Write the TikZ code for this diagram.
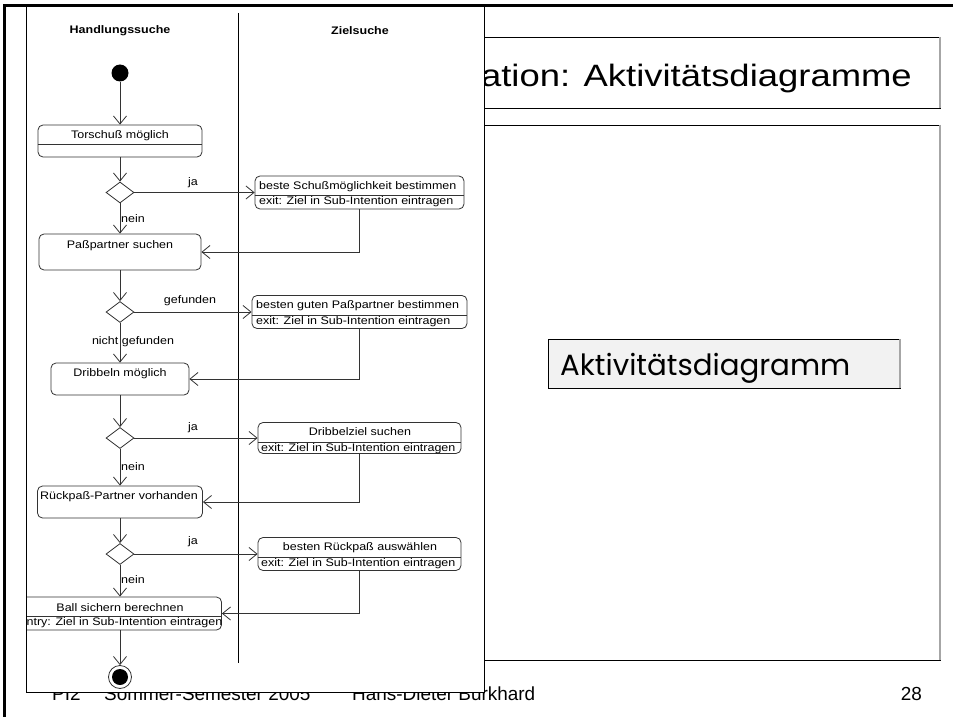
\documentclass[tikz,border=0pt]{standalone}
\usepackage{fontspec}
\setmainfont{Liberation Sans}
\newfontfamily\dfont[FakeStretch=1.14]{Liberation Sans}
\newfontfamily\tfont[FakeStretch=1.18]{Liberation Sans}
\newfontfamily\cfont{Poppins}
\usetikzlibrary{arrows.meta,shapes.geometric,calc}

\definecolor{ln}{HTML}{333333}
\definecolor{boxfill}{HTML}{F2F2F2}

\tikzset{
  act/.style={draw=ln, rounded corners=5bp, line width=0.8bp, inner sep=0pt, fill=white},
  dec/.style={draw=ln, diamond, inner sep=0pt, minimum width=28bp, minimum height=21bp,
              line width=0.8bp, fill=white},
  flow/.style={draw=ln, line width=0.8bp, -{Straight Barb[length=8bp,width=13bp]}},
  sep/.style={draw=ln, line width=0.8bp},
  txt/.style={font={\dfont\fontsize{11}{13}\selectfont}, inner sep=0pt},
  lbl/.style={font={\dfont\fontsize{11}{13}\selectfont}, inner sep=0pt},
  hdr/.style={font={\dfont\bfseries\fontsize{11}{13}\selectfont}, inner sep=0pt},
  foot/.style={font={\fontsize{19}{22}\selectfont}, inner sep=0pt, anchor=base west},
  slidebox/.style={draw=black, line width=0.9bp},
}

\begin{document}
\begin{tikzpicture}[x=1bp,y=-1bp]
\useasboundingbox (0,0) rectangle (953,717);
\fill[white] (0,0) rectangle (953,717);

% ---- slide: title bar, content area, footer ----
\draw[slidebox] (30,37) rectangle (940,108);
\draw[gray!70, line width=1.4bp] (940,37) -- (940,108);
\node[font={\tfont\fontsize{31}{36}\selectfont}, anchor=base east, inner sep=0pt]
  (title) at (912,87) {ation: Aktivitätsdiagramme};

\draw[slidebox] (30,125) rectangle (940,660);
\draw[gray!70, line width=1.4bp] (940,125) -- (940,660);

\draw[slidebox, fill=boxfill] (548,339) rectangle (900,388);
\draw[gray!70, line width=1.2bp] (900,339) -- (900,388);
\node[anchor=base west, inner sep=0pt] (akt) at (560,375)
  {\resizebox{290bp}{!}{\cfont Aktivitätsdiagramm}};

\node[foot] (f1) at (52,700) {PI2};
\node[foot] (f2) at (104,700) {Sommer-Semester 2005};
\node[foot] (f3) at (352,700) {Hans-Dieter Burkhard};
\node[foot, anchor=base east] (f4) at (922,700) {28};

% ---- activity diagram sheet ----
\fill[white] (26,5) rectangle (484,692);
\begin{scope}
\clip (26,5) rectangle (484,692);

% swimlanes
\draw[black, line width=0.8bp] (238,13) -- (238,663);
\node[hdr] (lane1) at (120,31) {Handlungssuche};
\node[hdr] (lane2) at (360,31) {Zielsuche};

% initial node
\node[circle, fill=black, minimum size=17bp, inner sep=0pt] (start) at (120,73) {};

% Torschuss
\node[act, minimum width=164bp, minimum height=32bp] (tor) at (120,141) {};
\draw[sep] ($(tor.west)+(0,3)$) -- ($(tor.east)+(0,3)$);
\node[txt] (torT) at (120,136) {Torschuß möglich};

\node[dec] (d1) at (120,192.5) {};
\node[act, minimum width=209bp, minimum height=33bp] (schuss) at (359.5,192.5) {};
\draw[sep] ($(schuss.west)+(0,2.5)$) -- ($(schuss.east)+(0,2.5)$);
\node[txt, anchor=west] (schussA) at (259,186.5) {beste Schußmöglichkeit bestimmen};
\node[txt, anchor=west] (schussB) at (259,202) {exit: Ziel in Sub-Intention eintragen};

% Passpartner
\node[act, minimum width=162bp, minimum height=36bp] (pass) at (120,252) {};
\node[txt] (passT) at (120,246) {Paßpartner suchen};

\node[dec] (d2) at (120,312) {};
\node[act, minimum width=215bp, minimum height=33bp] (bpass) at (359.5,312) {};
\node[txt, anchor=west] (bpassA) at (256,305.5) {besten guten Paßpartner bestimmen};
\draw[sep] ($(bpass.west)+(0,3)$) -- ($(bpass.east)+(0,3)$);
\node[txt, anchor=west] (bpassB) at (256,322) {exit: Ziel in Sub-Intention eintragen};

% Dribbeln
\node[act, minimum width=138bp, minimum height=32bp] (drib) at (120,379) {};
\node[txt] (dribT) at (120,374) {Dribbeln möglich};

\node[dec] (d3) at (120,438) {};
\node[act, minimum width=203bp, minimum height=31bp] (dziel) at (359.5,438) {};
\draw[sep] ($(dziel.west)+(0,4)$) -- ($(dziel.east)+(0,4)$);
\node[txt] (dzielA) at (360,432) {Dribbelziel suchen};
\node[txt, anchor=west] (dzielB) at (261,448.5) {exit: Ziel in Sub-Intention eintragen};

% Rueckpass
\node[act, minimum width=165bp, minimum height=32bp] (rp) at (120,502) {};
\node[txt] (rpT) at (119,497) {Rückpaß-Partner vorhanden};

\node[dec] (d4) at (120,554) {};
\node[act, minimum width=203bp, minimum height=33bp] (brp) at (359.5,554) {};
\draw[sep] ($(brp.west)+(0,3)$) -- ($(brp.east)+(0,3)$);
\node[txt] (brpA) at (360,548) {besten Rückpaß auswählen};
\node[txt, anchor=west] (brpB) at (261,564) {exit: Ziel in Sub-Intention eintragen};

% Ball sichern
\node[act, minimum width=203bp, minimum height=33bp] (ball) at (120,613.5) {};
\draw[sep] ($(ball.west)+(0,2.5)$) -- ($(ball.east)+(0,2.5)$);
\node[txt] (ballA) at (120,607.5) {Ball sichern berechnen};
\node[txt] (ballB) at (121,623) {entry: Ziel in Sub-Intention eintragen};

% final node
\node[circle, draw=ln, line width=0.8bp, minimum size=23bp, inner sep=0pt] (end) at (120,677) {};
\fill[black] (end.center) circle (8bp);

% control flow
\draw[flow] (start) -- (tor.north);
\draw[flow] (tor) -- (d1.north);
\draw[flow] (d1.east) -- (d1.east -| schuss.west);
\draw[flow] (d1.south) -- (pass.north);
\draw[flow] (schuss.south) |- (pass.east);
\draw[flow] (pass) -- (d2.north);
\draw[flow] (d2.east) -- (d2.east -| bpass.west);
\draw[flow] (d2.south) -- (drib.north);
\draw[flow] (bpass.south) |- (drib.east);
\draw[flow] (drib) -- (d3.north);
\draw[flow] (d3.east) -- (d3.east -| dziel.west);
\draw[flow] (d3.south) -- (rp.north);
\draw[flow] (dziel.south) |- (rp.east);
\draw[flow] (rp) -- (d4.north);
\draw[flow] (d4.east) -- (d4.east -| brp.west);
\draw[flow] (d4.south) -- (ball.north);
\draw[flow] (brp.south) |- (ball.east);
\draw[flow] (ball) -- (end.north);

% guard labels
\node[lbl] (g1) at (193,183) {ja};
\node[lbl, anchor=west] (g2) at (121,219) {nein};
\node[lbl] (g3) at (190,301) {gefunden};
\node[lbl] (g4) at (133,342) {nicht gefunden};
\node[lbl] (g5) at (193,428) {ja};
\node[lbl, anchor=west] (g6) at (121,467) {nein};
\node[lbl] (g7) at (193,542) {ja};
\node[lbl, anchor=west] (g8) at (121,580) {nein};
\end{scope}
\draw[black, line width=0.9bp] (26,5) rectangle (484,692);

% ---- slide frame ----
\draw[black, line width=3bp] (4.7,717) -- (4.7,5.3) -- (953,5.3);
\end{tikzpicture}
\end{document}
